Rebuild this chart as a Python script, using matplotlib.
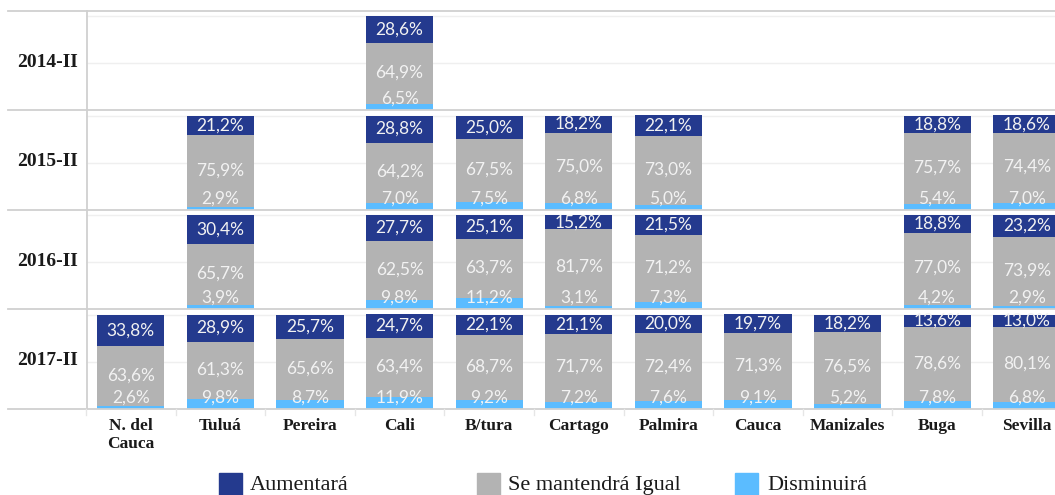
import numpy as np
import matplotlib.pyplot as plt
from matplotlib.patches import Rectangle
from matplotlib.lines import Line2D
from matplotlib.transforms import blended_transform_factory

# datos (en %), nan = sin dato
cities = ["N. del\nCauca", "Tuluá", "Pereira", "Cali", "B/tura", "Cartago",
          "Palmira", "Cauca", "Manizales", "Buga", "Sevilla"]
periods = ["2014-II", "2015-II", "2016-II", "2017-II"]
n = np.nan
aumentara = [
    [n, n, n, 28.6, n, n, n, n, n, n, n],
    [n, 21.2, n, 28.8, 25.0, 18.2, 22.1, n, n, 18.8, 18.6],
    [n, 30.4, n, 27.7, 25.1, 15.2, 21.5, n, n, 18.8, 23.2],
    [33.8, 28.9, 25.7, 24.7, 22.1, 21.1, 20.0, 19.7, 18.2, 13.6, 13.0],
]
igual = [
    [n, n, n, 64.9, n, n, n, n, n, n, n],
    [n, 75.9, n, 64.2, 67.5, 75.0, 73.0, n, n, 75.7, 74.4],
    [n, 65.7, n, 62.5, 63.7, 81.7, 71.2, n, n, 77.0, 73.9],
    [63.6, 61.3, 65.6, 63.4, 68.7, 71.7, 72.4, 71.3, 76.5, 78.6, 80.1],
]
disminuira = [
    [n, n, n, 6.5, n, n, n, n, n, n, n],
    [n, 2.9, n, 7.0, 7.5, 6.8, 5.0, n, n, 5.4, 7.0],
    [n, 3.9, n, 9.8, 11.2, 3.1, 7.3, n, n, 4.2, 2.9],
    [2.6, 9.8, 8.7, 11.9, 9.2, 7.2, 7.6, 9.1, 5.2, 7.8, 6.8],
]
series = ["Aumentará", "Se mantendrá Igual", "Disminuirá"]

C_AUM = "#243a8e"
C_IG = "#b3b3b3"
C_DIS = "#5bbcff"
C_LINE = "#d0d0d0"
C_TXT = "#f2f2f2"
W, H = 1055, 495
SERIF = "Liberation Serif"
SANS = "Lato"

def fx(x):
    return x / W

def fy(y):
    return 1 - y / H

def pct(v):
    return f"{v:.1f}%".replace(".", ",")

fig = plt.figure(figsize=(W / 100, H / 100), dpi=100)

row_edges = [11, 110, 209.5, 309, 408.5]
col_w = 89.6
left = 86
x = np.arange(len(cities))

ax = None
for i, per in enumerate(periods):
    top, bot = row_edges[i], row_edges[i + 1]
    ax = fig.add_axes([fx(left), fy(bot), fx(col_w * len(cities)), (bot - top) / H])
    ax.set_xlim(-0.5, len(cities) - 0.5)
    ax.set_ylim(0, (bot - top) / 94)
    ax.axis("off")
    for g in (0.5, 1.0):
        ax.axhline(g, color="#efefef", lw=1, zorder=0)

    a = np.array(aumentara[i]) / 100
    m = np.array(igual[i]) / 100
    d = np.array(disminuira[i]) / 100
    ok = ~np.isnan(a)
    ax.bar(x[ok], d[ok], width=0.75, color=C_DIS, zorder=2)
    ax.bar(x[ok], m[ok], bottom=d[ok], width=0.75, color=C_IG, zorder=2)
    ax.bar(x[ok], a[ok], bottom=d[ok] + m[ok], width=0.75, color=C_AUM, zorder=2)

    for xi in x[ok]:
        ax.text(xi, d[xi] + m[xi] + a[xi] / 2, pct(a[xi] * 100), ha="center", va="center",
                color=C_TXT, fontsize=12.5, family=SANS, zorder=3)
        ax.text(xi, d[xi] + m[xi] / 2 + 0.01, pct(m[xi] * 100), ha="center", va="center",
                color=C_TXT, fontsize=12.5, family=SANS, zorder=3)
        ax.text(xi, 0.12, pct(d[xi] * 100), ha="center", va="center",
                color=C_TXT, fontsize=12.5, family=SANS, zorder=3)

    fig.text(fx(47), fy((top + bot) / 2 + 6.5), per, ha="center", va="baseline",
             fontsize=14, fontweight="bold", family=SERIF, color="#1a1a1a")

# lineas de separacion
for y in row_edges:
    fig.add_artist(Line2D([fx(8), 1], [fy(y), fy(y)], color=C_LINE, lw=1.3))
fig.add_artist(Line2D([fx(87), fx(87)], [fy(11), fy(408.5)], color=C_LINE, lw=1.3))
for k in range(len(cities) + 1):
    xx = left + k * col_w
    fig.add_artist(Line2D([fx(xx), fx(xx)], [fy(409), fy(415)], color="#e6e6e6", lw=1))

# etiquetas de ciudades
tr = blended_transform_factory(ax.transData, fig.transFigure)
for xi, c in zip(x, cities):
    for j, part in enumerate(c.split("\n")):
        fig.text(xi, fy(430 + 18 * j), part, transform=tr, ha="center", va="baseline",
                 fontsize=12.5, fontweight="bold", family=SERIF, color="#1a1a1a")

# leyenda
leg = [(219, 250, C_AUM), (477, 508, C_IG), (735, 767, C_DIS)]
for (sx, tx, col), lab in zip(leg, series):
    fig.add_artist(Rectangle((fx(sx), fy(498)), fx(23), 25 / H, color=col,
                             transform=fig.transFigure))
    fig.text(fx(tx), fy(490), lab, ha="left", va="baseline", fontsize=16,
             family=SERIF, color="#1a1a1a")

fig.savefig("out.png", dpi=100)
